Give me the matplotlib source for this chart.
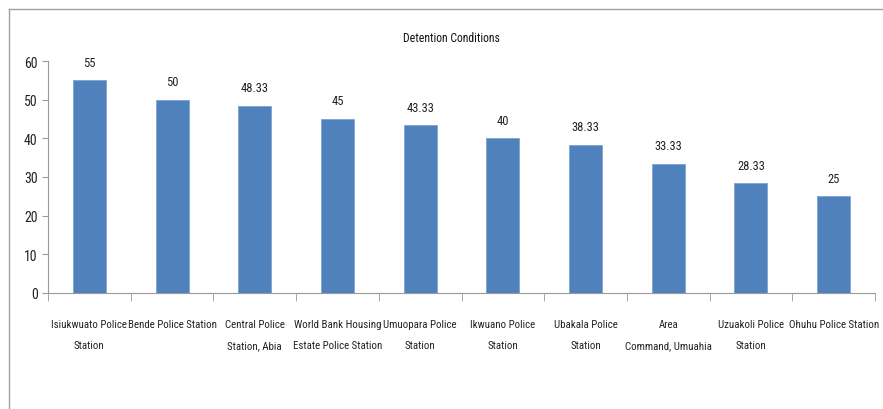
import matplotlib
matplotlib.use("Agg")
import matplotlib.pyplot as plt
from matplotlib import font_manager
import numpy as np

categories = ["Isiukwuato Police\nStation", "Bende Police Station", "Central Police\nStation, Abia",
              "World Bank Housing\nEstate Police Station", "Umuopara Police\nStation", "Ikwuano Police\nStation",
              "Ubakala Police\nStation", "Area\nCommand, Umuahia", "Uzuakoli Police\nStation",
              "Ohuhu Police Station"]
values = [55, 50, 48.33, 45, 43.33, 40, 38.33, 33.33, 28.33, 25]
value_labels = ["55", "50", "48.33", "45", "43.33", "40", "38.33", "33.33", "28.33", "25"]
title = "Detention Conditions"

avail = {f.name for f in font_manager.fontManager.ttflist}
fam = [f for f in ["Liberation Sans Narrow", "Roboto Condensed", "Open Sans Condensed"] if f in avail]
plt.rcParams['font.family'] = fam + ['DejaVu Sans']
plt.rcParams['font.stretch'] = 'condensed'

fig = plt.figure(figsize=(8.83, 4.10), dpi=100)
ax = fig.add_axes([48/883, 1-294/410, (875-48)/883, (294-62)/410])

x = np.arange(len(values))
ax.bar(x, values, width=0.4, color="#4F81BD", edgecolor="#7FA3D0", linewidth=0.6, zorder=2)
for xi, v, lab in zip(x, values, value_labels):
    ax.annotate(lab, (xi, v), xytext=(0, 8.5), textcoords="offset points",
                ha="center", va="bottom", fontsize=9, color="#222222")

ax.set_xlim(-0.5, len(values) - 0.5)
ax.set_ylim(0, 60)
ax.set_yticks(range(0, 61, 10))
ax.set_xticks(x)
ax.set_xticklabels(categories, fontsize=7.8, color="#222222", linespacing=2.3)
ax.set_xticks(np.arange(-0.5, len(values), 1), minor=True)
ax.tick_params(axis='x', which='major', length=0, pad=19)
ax.tick_params(axis='x', which='minor', length=6, color="#999999", direction='out')
ax.tick_params(axis='y', length=4, color="#999999", labelsize=10, labelcolor="#222222")
for s in ["top", "right"]:
    ax.spines[s].set_visible(False)
ax.spines["left"].set_color("#999999")
ax.spines["bottom"].set_color("#999999")

fig.text(451/883, 1-38/410, title, ha="center", va="center", fontsize=8.5, color="#111111")

# outer chart border (top and left visible)
fig.add_artist(plt.Line2D([9/883, 1], [1-10/410, 1-10/410], transform=fig.transFigure, color="#A0A0A0", lw=1))
fig.add_artist(plt.Line2D([9/883, 9/883], [0, 1-10/410], transform=fig.transFigure, color="#A0A0A0", lw=1))

fig.savefig("out.png", dpi=100)
